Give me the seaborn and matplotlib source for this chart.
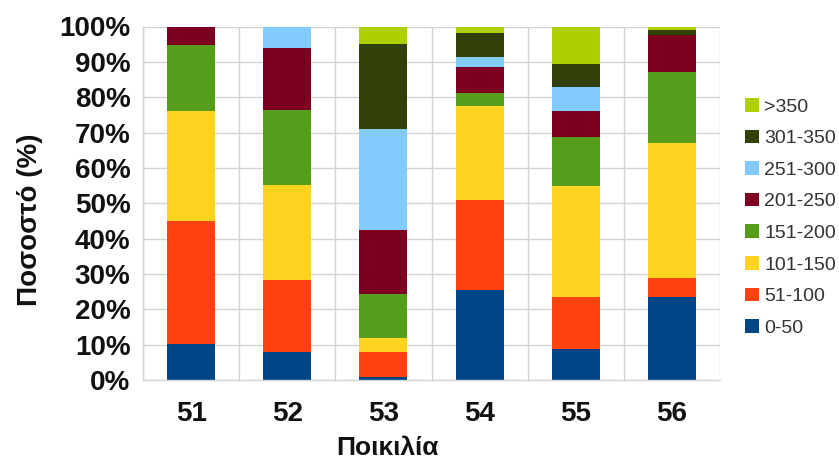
import matplotlib
matplotlib.use("Agg")
import matplotlib.pyplot as plt
import seaborn as sns
import pandas as pd
from matplotlib.ticker import FixedLocator, FuncFormatter

varieties = [51, 52, 53, 54, 55, 56]
ranges = [">350", "301-350", "251-300", "201-250", "151-200", "101-150", "51-100", "0-50"]
colors = ["#aecf00", "#314004", "#83caff", "#7e0021", "#579d1c", "#ffd320", "#ff420e", "#004586"]

v_0_50    = [10.1, 7.9, 0.9, 25.6, 8.7, 23.6]
v_51_100  = [35.0, 20.4, 7.0, 25.2, 14.7, 5.2]
v_101_150 = [31.0, 27.0, 4.1, 26.7, 31.5, 38.3]
v_151_200 = [18.7, 21.1, 12.3, 3.7, 13.7, 19.9]
v_201_250 = [5.2, 17.6, 18.0, 7.4, 7.5, 10.7]
v_251_300 = [0.0, 6.0, 28.7, 2.7, 6.7, 0.0]
v_301_350 = [0.0, 0.0, 24.0, 6.8, 6.6, 1.3]
v_gt_350  = [0.0, 0.0, 5.0, 1.9, 10.6, 1.0]

series = {
    ">350": v_gt_350, "301-350": v_301_350, "251-300": v_251_300,
    "201-250": v_201_250, "151-200": v_151_200, "101-150": v_101_150,
    "51-100": v_51_100, "0-50": v_0_50,
}
rows = []
for r in ranges:
    for v, p in zip(varieties, series[r]):
        rows.append({"Ποικιλία": v, "range": r, "pct": p})
df = pd.DataFrame(rows)

sns.set_style("white")
plt.rcParams['font.family'] = ['Liberation Sans', 'DejaVu Sans']

fig = plt.figure(figsize=(8.39, 4.63), dpi=100)
ax = fig.add_axes([143/839, 1-380/463, (720-143)/839, (380-26.5)/463])

sns.histplot(data=df, x="Ποικιλία", weights="pct", hue="range", hue_order=ranges,
             palette=colors, multiple="stack", discrete=True, shrink=0.5,
             alpha=1, linewidth=0, ax=ax)

ax.set_xlim(50.5, 56.5)
ax.set_ylim(0, 100)
ax.set_axisbelow(True)

grid_c = "#d4d4d4"
ax.yaxis.set_major_locator(FixedLocator(list(range(0, 101, 10))))
ax.yaxis.set_major_formatter(FuncFormatter(lambda v, p: f"{int(v)}%"))
ax.xaxis.set_major_locator(FixedLocator(varieties))
ax.xaxis.set_minor_locator(FixedLocator([50.5 + i for i in range(7)]))
ax.grid(axis="y", which="major", color=grid_c, linewidth=1)
ax.grid(axis="x", which="minor", color=grid_c, linewidth=1)
ax.grid(axis="x", which="major", visible=False)

ax.tick_params(axis="x", which="major", length=0, pad=15)
ax.tick_params(axis="x", which="minor", length=8, color=grid_c, width=1)
ax.tick_params(axis="y", which="major", length=5, color=grid_c, width=1, pad=4)
for lab in ax.get_xticklabels() + ax.get_yticklabels():
    lab.set_fontsize(20)
    lab.set_fontweight("bold")
    lab.set_color("#111111")

for s in ["top", "right"]:
    ax.spines[s].set_visible(False)
for s in ["left", "bottom"]:
    ax.spines[s].set_color(grid_c)
    ax.spines[s].set_linewidth(1)

ax.set_xlabel("Ποικιλία", fontsize=19, fontweight="bold", color="#111111")
ax.set_ylabel("Ποσοστό (%)", fontsize=20, fontweight="bold", color="#111111")
ax.xaxis.set_label_coords((387 - 143) / 577, (380 - 436) / 353.5)
ax.yaxis.set_label_coords((43 - 143) / 577, (380 - 220) / 353.5)

sns.move_legend(ax, loc="upper left", bbox_to_anchor=(745/839, 1-98/463),
                bbox_transform=fig.transFigure, frameon=False, title=None,
                fontsize=14, handlelength=0.7, handleheight=0.7,
                handletextpad=0.3, labelspacing=0.72, borderaxespad=0,
                borderpad=0)
for t in ax.get_legend().get_texts():
    t.set_color("#333333")

fig.savefig("out.png", dpi=100)
